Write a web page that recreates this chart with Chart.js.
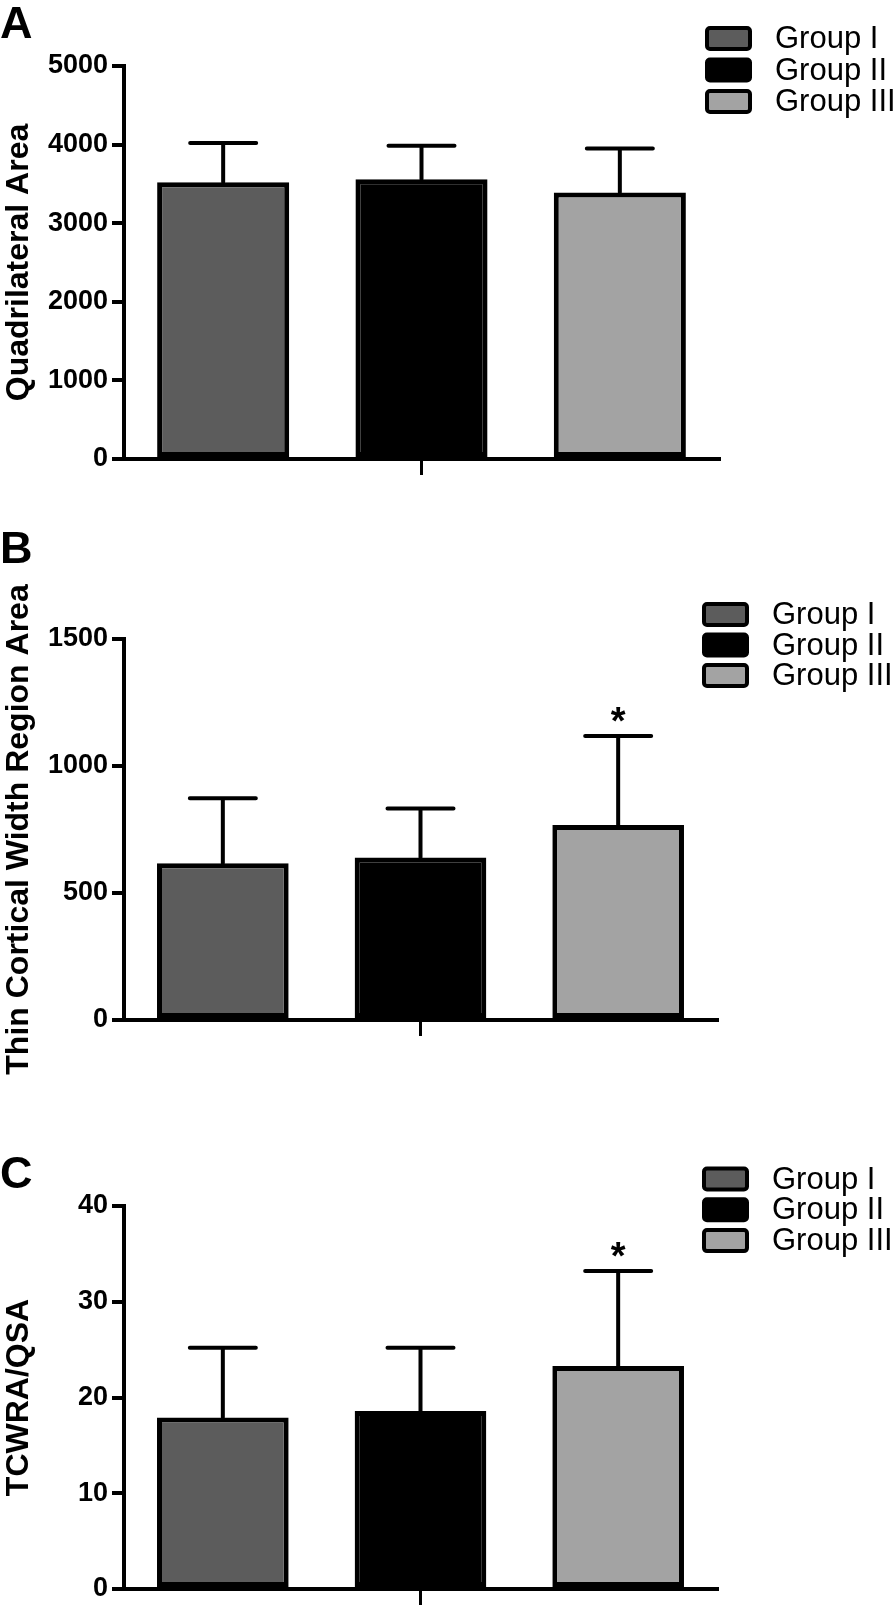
<!DOCTYPE html>
<html>
<head>
<meta charset="utf-8">
<script src="https://cdn.jsdelivr.net/npm/chart.js@4.4.0/dist/chart.umd.min.js"></script>
<style>
  html, body { margin: 0; padding: 0; background: #fff; }
  #wrap { position: relative; width: 896px; height: 1617px; overflow: hidden; }
  canvas { position: absolute; left: 0; }
</style>
</head>
<body>
<div id="wrap">
  <canvas id="chartA" width="896" height="520" style="top:0px"></canvas>
  <canvas id="chartB" width="896" height="560" style="top:520px"></canvas>
  <canvas id="chartC" width="896" height="537" style="top:1080px"></canvas>
</div>
<script>
const groups = ['Group I', 'Group II', 'Group III'];
const fills = ['#5c5c5c', '#000000', '#a3a3a3'];

// panel A - quadrilateral area
const quadMean = [3520, 3560, 3390];
const quadUpper = [4020, 3985, 3950];
const quadStars = ['', '', ''];

// panel B - thin cortical width region area
const thinMean = [617, 640, 768];
const thinUpper = [873, 833, 1118];
const thinStars = ['', '', '*'];

// panel C - ratio
const ratioMean = [17.9, 18.6, 23.3];
const ratioUpper = [25.2, 25.2, 33.2];
const ratioStars = ['', '', '*'];

const FONT = '"Liberation Sans", Arial, Helvetica, sans-serif';

// mean + upper SD whisker, with significance mark above
const errorBars = {
  id: 'errorBars',
  afterDatasetsDraw(chart, args, opts) {
    const ctx = chart.ctx;
    const ys = chart.scales.y;
    ctx.save();
    ctx.strokeStyle = '#000';
    ctx.fillStyle = '#000';
    ctx.lineWidth = 4;
    ctx.lineCap = 'round';
    chart.data.datasets.forEach((ds, i) => {
      const bar = chart.getDatasetMeta(i).data[0];
      const top = ys.getPixelForValue(opts.upper[i]);
      ctx.beginPath();
      ctx.moveTo(bar.x, bar.y);
      ctx.lineTo(bar.x, top);
      ctx.moveTo(bar.x - 33, top);
      ctx.lineTo(bar.x + 33, top);
      ctx.stroke();
      if (opts.stars[i]) {
        ctx.font = 'bold 38px ' + FONT;
        ctx.textAlign = 'center';
        ctx.textBaseline = 'alphabetic';
        ctx.fillText(opts.stars[i], bar.x, top - 2);
      }
    });
    ctx.restore();
  }
};

// panel letter + legend on the right
const panelDecor = {
  id: 'panelDecor',
  afterDraw(chart, args, o) {
    const ctx = chart.ctx;
    ctx.save();
    ctx.fillStyle = '#000';
    ctx.textAlign = 'left';
    ctx.textBaseline = 'alphabetic';
    ctx.font = 'bold 45px ' + FONT;
    ctx.fillText(o.letter, 0, o.letterBase);
    chart.data.datasets.forEach((ds, i) => {
      const cy = o.legendTop + i * o.legendStep;
      const x = o.legendX;
      ctx.beginPath();
      ctx.roundRect(x + 2, cy - 10.5, 43, 21, 3);
      ctx.fillStyle = ds.backgroundColor;
      ctx.fill();
      ctx.lineWidth = 4;
      ctx.strokeStyle = '#000';
      ctx.stroke();
      ctx.fillStyle = '#000';
      ctx.font = '31px ' + FONT;
      ctx.textBaseline = 'middle';
      ctx.fillText(ds.label, x + 70, cy + 1);
    });
    ctx.restore();
  }
};

function makePanel(id, means, upper, stars, yMax, step, yTitle, pad, decor) {
  const ctx = document.getElementById(id).getContext('2d');
  new Chart(ctx, {
    type: 'bar',
    data: {
      labels: [''],
      datasets: groups.map((g, i) => ({
        label: g,
        data: [means[i]],
        backgroundColor: fills[i],
        borderColor: '#000',
        borderWidth: 5,
        borderSkipped: false,
        barPercentage: 0.666,
        categoryPercentage: 1.0
      }))
    },
    options: {
      responsive: false,
      maintainAspectRatio: false,
      animation: false,
      events: [],
      layout: { padding: pad },
      plugins: {
        legend: { display: false },
        tooltip: { enabled: false },
        errorBars: { upper: upper, stars: stars },
        panelDecor: decor
      },
      scales: {
        x: {
          offset: true,
          grid: { display: true, drawOnChartArea: false, offset: false, tickLength: 16, lineWidth: 3, color: '#000' },
          border: { display: true, color: '#000', width: 4 },
          ticks: { callback: () => '' },
          afterFit(s) { s.height = 20; }
        },
        y: {
          min: 0,
          max: yMax,
          ticks: {
            stepSize: step, color: '#000', padding: 4,
            font: { family: FONT, size: 27, weight: 'bold' },
            callback: v => String(v)
          },
          grid: { drawOnChartArea: false, tickLength: 12, lineWidth: 4, color: '#000' },
          border: { color: '#000', width: 4 },
          title: { display: true, text: yTitle, color: '#000', padding: 0, font: { family: FONT, size: 32, weight: 'bold' } },
          afterFit(s) { s.width = 124; }
        }
      }
    },
    plugins: [errorBars, panelDecor]
  });
}

makePanel('chartA', quadMean, quadUpper, quadStars, 5000, 1000, 'Quadrilateral Area',
  { top: 66, right: 177, bottom: 41, left: 0 },
  { letter: 'A', letterBase: 38, legendX: 705, legendTop: 38.5, legendStep: 31.5 });

makePanel('chartB', thinMean, thinUpper, thinStars, 1500, 500, 'Thin Cortical Width Region Area',
  { top: 119, right: 179, bottom: 40, left: 0 },
  { letter: 'B', letterBase: 43, legendX: 702, legendTop: 94.5, legendStep: 30.5 });

makePanel('chartC', ratioMean, ratioUpper, ratioStars, 40, 10, 'TCWRA/QSA',
  { top: 126, right: 179, bottom: 8, left: 0 },
  { letter: 'C', letterBase: 108, legendX: 702, legendTop: 99, legendStep: 30.8 });
</script>
</body>
</html>
